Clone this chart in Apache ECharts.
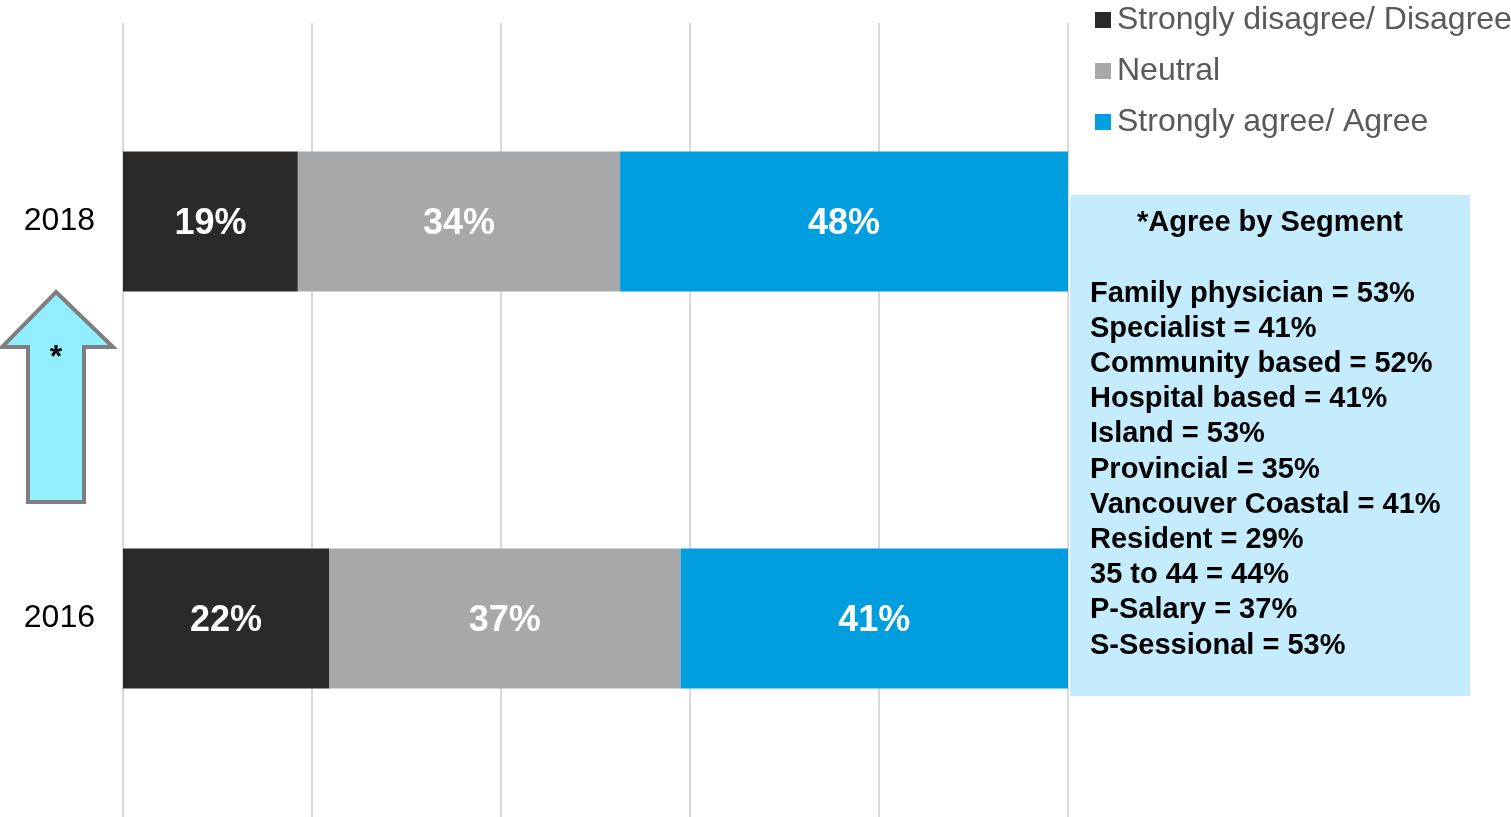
<!DOCTYPE html>
<html>
<head>
<meta charset="utf-8">
<script src="https://cdn.jsdelivr.net/npm/echarts@6/dist/echarts.min.js"></script>
<style>
	html, body { margin: 0; padding: 0; background: #fff; }
	#chart { width: 1511px; height: 817px; }
</style>
</head>
<body>
<div id="chart"></div>
<script>
	var years = ['2018', '2016'];
	var disagree = [18.5, 21.8];
	var neutral = [34.1, 37.2];
	var agree = [47.4, 41.0];
	var disagreeLabels = ['19%', '22%'];
	var neutralLabels = ['34%', '37%'];
	var agreeLabels = ['48%', '41%'];
	var segmentTitle = '*Agree by Segment';
	var segments = [
		'Family physician = 53%',
		'Specialist = 41%',
		'Community based = 52%',
		'Hospital based = 41%',
		'Island = 53%',
		'Provincial = 35%',
		'Vancouver Coastal = 41%',
		'Resident = 29%',
		'35 to 44 = 44%',
		'P-Salary = 37%',
		'S-Sessional = 53%'
	];

	var font = '"Liberation Sans", Arial, sans-serif';

	function makeSeries(name, data, labels, color) {
		return {
			name: name,
			type: 'bar',
			stack: 'total',
			barWidth: 140,
			data: data,
			itemStyle: { color: color },
			label: {
				show: true,
				position: 'inside',
				offset: [0, 3],
				color: '#fff',
				fontFamily: font,
				fontWeight: 'bold',
				fontSize: 36,
				formatter: function(p) { return labels[p.dataIndex]; }
			}
		};
	}

	var Chart = echarts.init(document.getElementById('chart'));
	var option = {
		animation: false,
		backgroundColor: '#fff',
		legend: {
			orient: 'vertical',
			left: 1090,
			top: -1,
			itemWidth: 16,
			itemHeight: 16,
			itemGap: 19,
			icon: 'rect',
			textStyle: { fontFamily: font, fontSize: 32, color: '#595959', lineHeight: 32, padding: [0, 0, 0, 1] },
			data: ['Strongly disagree/ Disagree', 'Neutral', 'Strongly agree/ Agree']
		},
		grid: { left: 123, right: 443, top: 23, bottom: 0 },
		xAxis: {
			type: 'value',
			min: 0,
			max: 100,
			interval: 20,
			axisLabel: { show: false },
			axisLine: { show: false },
			axisTick: { show: false },
			splitLine: { lineStyle: { color: '#d9d9d9', width: 2 } }
		},
		yAxis: {
			type: 'category',
			inverse: true,
			data: years,
			axisLine: { show: false },
			axisTick: { show: false },
			axisLabel: { fontFamily: font, fontSize: 32, color: '#000', margin: 28 }
		},
		series: [
			makeSeries('Strongly disagree/ Disagree', disagree, disagreeLabels, '#2b2a29'),
			makeSeries('Neutral', neutral, neutralLabels, '#a7a8aa'),
			makeSeries('Strongly agree/ Agree', agree, agreeLabels, '#009ddf')
		],
		graphic: [
			{
				type: 'polygon',
				shape: {
					points: [[56, 292], [113, 347], [84, 347], [84, 502], [28, 502], [28, 347], [2, 347]]
				},
				style: { fill: '#91efff', stroke: '#7f7f7f', lineWidth: 4 },
				z: 10
			},
			{
				type: 'text',
				x: 56,
				y: 358,
				style: { text: '*', font: 'bold 32px ' + font, fill: '#000', align: 'center', verticalAlign: 'middle' },
				z: 11
			},
			{
				type: 'rect',
				shape: { x: 1070, y: 195, width: 400, height: 501 },
				style: { fill: '#c5ecfc' },
				z: 10
			},
			{
				type: 'text',
				x: 1270,
				y: 223,
				style: {
					text: segmentTitle,
					font: 'bold 29px ' + font,
					fill: '#000',
					align: 'center',
					verticalAlign: 'middle'
				},
				z: 11
			},
			{
				type: 'text',
				x: 1090,
				y: 276,
				style: {
					text: segments.join('\n'),
					font: 'bold 29px ' + font,
					lineHeight: 35.2,
					fill: '#000',
					align: 'left',
					verticalAlign: 'top'
				},
				z: 11
			}
		]
	};
	Chart.setOption(option);
</script>
</body>
</html>
